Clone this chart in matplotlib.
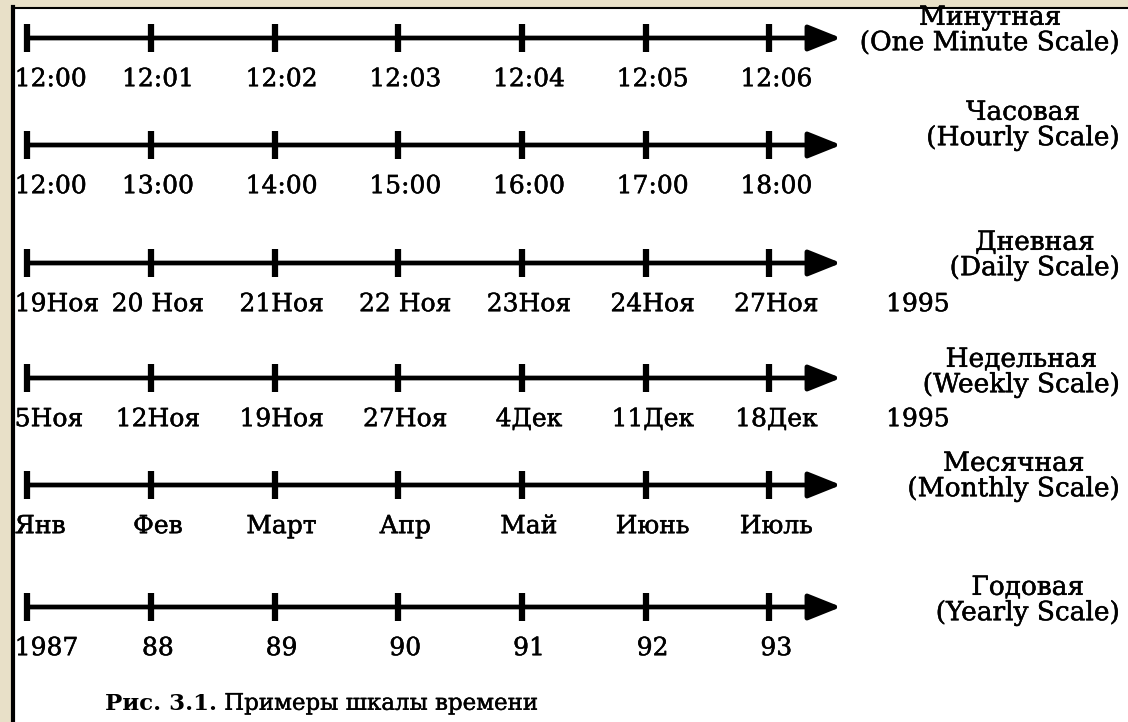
import matplotlib.pyplot as plt
import matplotlib.patheffects as pe
from matplotlib.patches import Rectangle
from matplotlib.lines import Line2D

plt.rcParams['font.family'] = ['DejaVu Serif']

# tick labels of each time scale, top to bottom
minute_labels = ["12:00", "12:01", "12:02", "12:03", "12:04", "12:05", "12:06"]
hourly_labels = ["12:00", "13:00", "14:00", "15:00", "16:00", "17:00", "18:00"]
daily_labels = ["19Ноя", "20 Ноя", "21Ноя", "22 Ноя", "23Ноя", "24Ноя", "27Ноя"]
weekly_labels = ["5Ноя", "12Ноя", "19Ноя", "27Ноя", "4Дек", "11Дек", "18Дек"]
monthly_labels = ["Янв", "Фев", "Март", "Апр", "Май", "Июнь", "Июль"]
yearly_labels = ["1987", "88", "89", "90", "91", "92", "93"]

scale_names = [
    "Минутная\n(One Minute Scale)",
    "Часовая\n(Hourly Scale)",
    "Дневная\n(Daily Scale)",
    "Недельная\n(Weekly Scale)",
    "Месячная\n(Monthly Scale)",
    "Годовая\n(Yearly Scale)",
]
year_notes = ["", "", "1995", "1995", "", ""]
caption_bold = "Рис. 3.1."
caption_text = " Примеры шкалы времени"

rows = [minute_labels, hourly_labels, daily_labels,
        weekly_labels, monthly_labels, yearly_labels]

# layout: vertical place of each arrow and of its name (pixels from top)
row_pos = [38, 145, 263, 378, 485, 607]
name_pos = [30, 125, 255, 372, 476, 600]

W, H = 1128, 722
fig = plt.figure(figsize=(W / 100, H / 100), dpi=100)
fig.patch.set_facecolor("#e8e0c8")

# white page with the dark scan edge on the left and top
fig.add_artist(Rectangle((11 / W, 0), 1, (H - 7) / H, transform=fig.transFigure,
                         facecolor="white", edgecolor="none", zorder=-2))
fig.add_artist(Line2D([13 / W, 13 / W], [0, (H - 7) / H], lw=3, color="black",
                      transform=fig.transFigure, zorder=-1))
fig.add_artist(Line2D([12 / W, 1], [(H - 8) / H, (H - 8) / H], lw=1.5, color="black",
                      transform=fig.transFigure, zorder=-1))

ax = fig.add_axes([0, 0, 1, 1])
ax.set_facecolor("none")
ax.axis("off")
ax.set_xlim(-0.22, 8.9)
ax.set_ylim(H, 0)

ink = [pe.withStroke(linewidth=0.35, foreground="black")]
fs = 18
for r, labels in enumerate(rows):
    n = len(labels)
    y = row_pos[r]
    # axis line with arrow head
    ax.annotate("", xy=(n - 1 + 0.58, y), xytext=(0, y),
                arrowprops=dict(arrowstyle="-|>,head_length=1.0,head_width=0.4",
                                lw=3.4, color="black", shrinkA=0, shrinkB=0,
                                mutation_scale=20))
    ax.plot(range(n), [y] * n, ls="none", marker="|", ms=20, mew=4.5, color="black")

    for i, lab in enumerate(labels):
        if i == 0:
            ax.annotate(lab, xy=(i, y), xytext=(-9, -30), textcoords="offset points",
                        ha="left", va="center", fontsize=fs, path_effects=ink)
        else:
            ax.annotate(lab, xy=(i, y), xytext=(5, -30), textcoords="offset points",
                        ha="center", va="center", fontsize=fs, path_effects=ink)
    if year_notes[r]:
        ax.annotate(year_notes[r], xy=(n + 0.2, y), xytext=(0, -30),
                    textcoords="offset points", ha="center", va="center",
                    fontsize=fs, path_effects=ink)

    ax.text(0.993, name_pos[r], scale_names[r], transform=ax.get_yaxis_transform(),
            ha="right", va="center", multialignment="center", fontsize=19,
            linespacing=1.02, path_effects=ink)

# caption
t1 = ax.text(0.093, 0.01, caption_bold, transform=ax.transAxes,
             fontweight="bold", fontsize=16.5, ha="left", va="bottom")
ax.annotate(caption_text, xy=(1, 0), xycoords=t1, ha="left", va="bottom",
            fontsize=16.5, path_effects=[pe.withStroke(linewidth=0.3, foreground="black")])

fig.savefig("out.png", dpi=100, facecolor=fig.get_facecolor())
